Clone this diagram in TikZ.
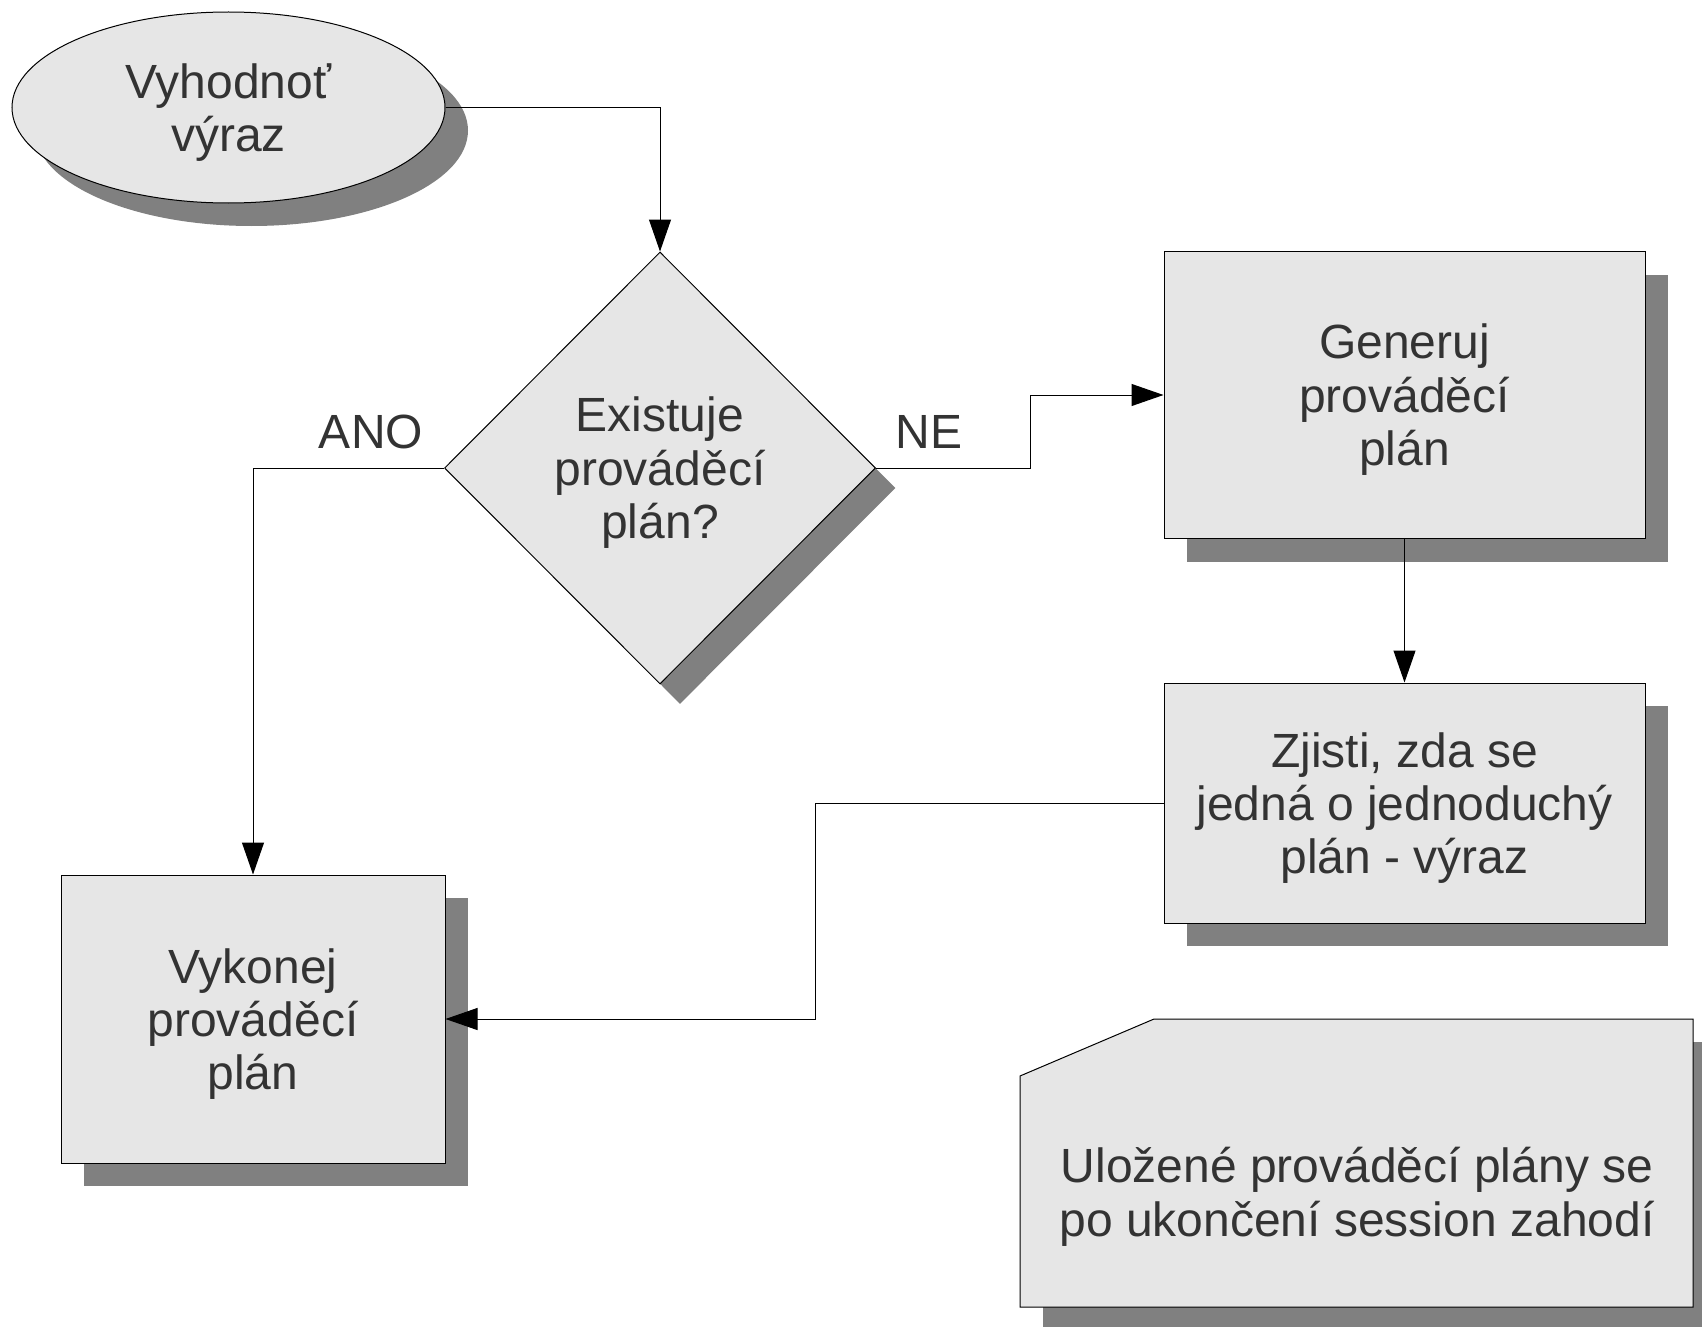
\documentclass[tikz,border=0pt]{standalone}
\usepackage{fontspec}
\setmainfont{Liberation Sans}
\usetikzlibrary{shapes.geometric,shadows,arrows.meta}

\definecolor{boxgray}{HTML}{E6E6E6}
\definecolor{shadowgray}{HTML}{808080}
\definecolor{textgray}{HTML}{333333}

\begin{document}
\begin{tikzpicture}[x=0.5pt, y=-0.5pt, line width=0.5pt,
  every node/.style = {align=center, text=textgray, inner sep=0pt,
    text depth=0pt, font=\fontsize{24}{26.7}\selectfont},
  dropgray/.style = {drop shadow={shadow xshift=#1, shadow yshift=-#1,
    fill=shadowgray, opacity=1}},
  block/.style = {draw, fill=boxgray, dropgray=#1},
  block/.default = 11.5pt,
  flow/.style = {-{Triangle[length=16pt,width=11pt]}}]
  \useasboundingbox (0,0) rectangle (1702,1327);

  \node[block, ellipse, minimum width=216.5pt, minimum height=95.5pt]
    (start) at (228.5,107.5) {Vyhodnoť\\výraz};
  \node[block=10pt, diamond, minimum width=215.5pt, minimum height=216pt]
    (dec) at (660,468) {Existuje\\prováděcí\\plán?};
  \node[block, minimum width=240.5pt, minimum height=143.5pt]
    (gen) at (1404.5,395) {Generuj\\prováděcí\\plán};
  \node[block, minimum width=240.5pt, minimum height=120pt]
    (chk) at (1404.5,803) {Zjisti, zda se\\jedná o jednoduchý\\plán - výraz};
  \node[block, minimum width=192pt, minimum height=144pt]
    (exec) at (253,1019) {Vykonej\\prováděcí\\plán};

  % poznamka
  \filldraw[fill=boxgray, dropgray=11.5pt]
    (1020,1076) -- (1154,1019) -- (1693,1019) -- (1693,1307) -- (1020,1307) -- cycle;
  \node (note) at (1357,1192) {Uložené prováděcí plány se\\po ukončení session zahodí};

  \node (ano) at (371,432) {ANO};
  \node (ne) at (929,432) {NE};

  \draw[flow] (start.east) -| (dec.north);
  \draw[flow] (dec.west) -| (exec.north);
  \draw[flow] (dec.east) -- ++(154,0) |- (gen.west);
  \draw[flow] (gen.south) -- (chk.north);
  \draw[flow] (chk.west) -- ++(-348,0) |- (exec.east);
\end{tikzpicture}
\end{document}
